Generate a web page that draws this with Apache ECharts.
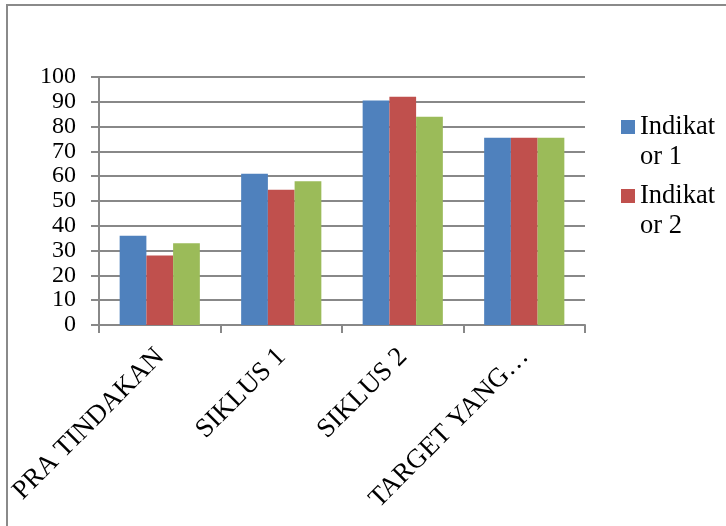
<!DOCTYPE html>
<html>
<head>
<meta charset="utf-8">
<script src="https://cdn.jsdelivr.net/npm/echarts@6/dist/echarts.min.js"></script>
<style>html,body{margin:0;padding:0;background:#fff}#c{width:726px;height:526px}</style>
</head>
<body>
<div id="c"></div>
<script>
var categories = ['PRA TINDAKAN', 'SIKLUS 1', 'SIKLUS 2', 'TARGET YANG…'];
var seriesNames = ['Indikator 1', 'Indikator 2', 'Indikator 3'];
var indikator1 = [36, 61, 90.5, 75.5];
var indikator2 = [28, 54.5, 92, 75.5];
var indikator3 = [33, 58, 84, 75.5];
var legendItems = ['Indikator 1', 'Indikator 2'];

var FONT = '"Liberation Serif", "Times New Roman", serif';
var GRAY = '#888888';
var chart = echarts.init(document.getElementById('c'), null, {renderer: 'canvas'});
var iconPath = 'path://M0,0L0.01,0L0.01,0.01Z M0,8L14,8L14,22L0,22Z M0,60L0.01,60L0.01,59.99Z';
chart.setOption({
  animation: false,
  backgroundColor: '#ffffff',
  color: ['#4F81BD', '#C0504D', '#9BBB59'],
  graphic: [{
    type: 'rect',
    shape: {x: 7, y: 5, width: 900, height: 700},
    style: {fill: 'none', stroke: '#8a8a8a', lineWidth: 2},
    silent: true
  }],
  grid: {left: 99, right: 141, top: 77, bottom: 201, containLabel: false},
  legend: {
    orient: 'vertical',
    left: 621,
    top: 112,
    padding: 0,
    data: legendItems,
    icon: iconPath,
    itemWidth: 14,
    itemHeight: 60,
    itemGap: 9,
    formatter: function (n) { return n.slice(0, 7) + '\n' + n.slice(7); },
    textStyle: {fontFamily: FONT, fontSize: 26.5, lineHeight: 30, color: '#000'}
  },
  xAxis: {
    type: 'category',
    data: categories,
    axisLine: {lineStyle: {color: GRAY, width: 2}},
    axisTick: {show: true, length: 8, lineStyle: {color: GRAY, width: 2}},
    axisLabel: {
      rotate: 45, interval: 0, margin: 9,
      align: 'right', verticalAlign: 'top',
      padding: [0, 13, 0, 0],
      fontFamily: FONT, fontSize: 27, color: '#000'
    }
  },
  yAxis: {
    type: 'value', min: 0, max: 100, interval: 10,
    axisLine: {show: true, lineStyle: {color: GRAY, width: 2}},
    axisTick: {show: true, length: 8, lineStyle: {color: GRAY, width: 2}},
    splitLine: {lineStyle: {color: GRAY, width: 2}},
    axisLabel: {margin: 23, fontFamily: FONT, fontSize: 24, color: '#000'}
  },
  series: [
    {name: seriesNames[0], type: 'bar', data: indikator1, barGap: '0%', barCategoryGap: '34%'},
    {name: seriesNames[1], type: 'bar', data: indikator2, barGap: '0%', barCategoryGap: '34%'},
    {name: seriesNames[2], type: 'bar', data: indikator3, barGap: '0%', barCategoryGap: '34%'}
  ]
});
</script>
</body>
</html>
